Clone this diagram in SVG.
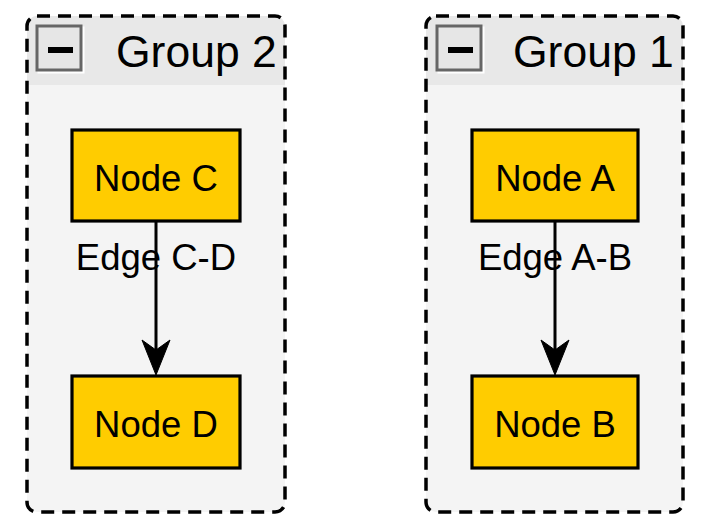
<svg xmlns="http://www.w3.org/2000/svg" width="705" height="530" viewBox="0 0 705 530">
<style>
.body{fill:#f4f4f4;stroke:none}
.head{fill:#e8e8e8;stroke:none}
.outline{fill:none;stroke:#000;stroke-width:3.5;stroke-dasharray:13 8}
.btnw{fill:none;stroke:#fff;stroke-width:3}
.btn{fill:#e6e6e6;stroke:#666;stroke-width:3}
.bar{fill:#000}
.glabel{font-family:"Liberation Sans",Arial,sans-serif;font-size:44.5px;fill:#000}
.node{fill:#ffcc00;stroke:#000;stroke-width:3.2}
.ntext{font-family:"Liberation Sans",Arial,sans-serif;font-size:36.5px;fill:#000;text-anchor:middle}
.edge{stroke:#000;stroke-width:3;fill:none}
.ah{fill:#000;stroke:#000;stroke-width:1}
</style>
<rect width="705" height="530" fill="#fff"/>
<g id="group2">
<rect class="body" x="27" y="16" width="258" height="496" rx="10"/>
<path class="head" d="M27,85 V26 a10,10 0 0 1 10,-10 H275 a10,10 0 0 1 10,10 V85 Z"/>
<rect class="outline" x="27" y="16" width="258" height="496" rx="10"/>
<rect class="btnw" x="39" y="28" width="44" height="44"/>
<rect class="btn" x="37" y="26" width="44" height="44"/>
<rect class="bar" x="48" y="47" width="25" height="6"/>
<text class="glabel" x="116" y="67">Group 2</text>
</g>
<g id="group1">
<rect class="body" x="426" y="16" width="257" height="496" rx="10"/>
<path class="head" d="M426,85 V26 a10,10 0 0 1 10,-10 H673 a10,10 0 0 1 10,10 V85 Z"/>
<rect class="outline" x="426" y="16" width="257" height="496" rx="10"/>
<rect class="btnw" x="439" y="28" width="44" height="44"/>
<rect class="btn" x="437" y="26" width="44" height="44"/>
<rect class="bar" x="448" y="47" width="25" height="6"/>
<text class="glabel" x="513" y="67">Group 1</text>
</g>
<g id="connectors">
<line class="edge" x1="156" y1="221" x2="156" y2="352"/>
<polygon class="ah" points="156,375 142,340 156,350 170,340"/>
<text class="ntext" x="156" y="270">Edge C-D</text>
<line class="edge" x1="555" y1="221" x2="555" y2="352"/>
<polygon class="ah" points="555,375 541,340 555,350 569,340"/>
<text class="ntext" x="555" y="270">Edge A-B</text>
</g>
<g id="nodeC">
<rect class="node" x="72" y="130" width="168" height="91"/>
<text class="ntext" x="156" y="191">Node C</text>
</g>
<g id="nodeD">
<rect class="node" x="72" y="376" width="168" height="92"/>
<text class="ntext" x="156" y="437">Node D</text>
</g>
<g id="nodeA">
<rect class="node" x="472" y="130" width="166" height="91"/>
<text class="ntext" x="555" y="191">Node A</text>
</g>
<g id="nodeB">
<rect class="node" x="472" y="376" width="166" height="92"/>
<text class="ntext" x="555" y="437">Node B</text>
</g>
</svg>
